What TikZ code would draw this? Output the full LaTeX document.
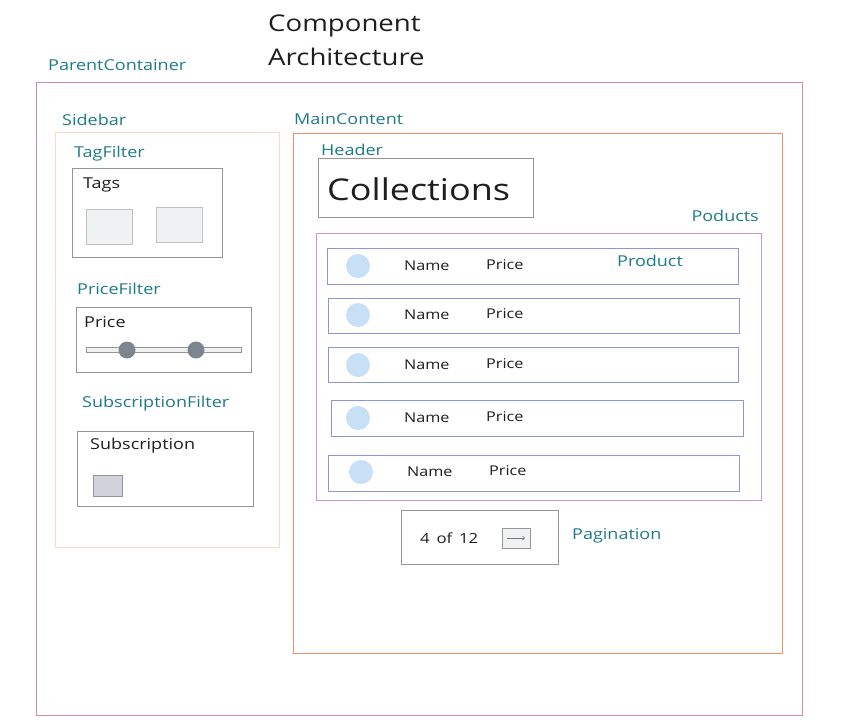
\documentclass[tikz,border=0pt]{standalone}
\usepackage{fontspec}
\usetikzlibrary{arrows.meta}
\setmainfont{Open Sans}[FakeStretch=1.2]
\begin{document}
\definecolor{labelteal}{RGB}{30,122,135}
\definecolor{ink}{RGB}{30,30,30}
\definecolor{parentline}{RGB}{214,140,165}
\definecolor{sideline}{RGB}{250,218,196}
\definecolor{mainline}{RGB}{240,145,105}
\definecolor{prodsline}{RGB}{196,150,214}
\definecolor{rowline}{RGB}{140,150,224}
\definecolor{boxline}{RGB}{150,150,150}
\definecolor{tagfill}{RGB}{240,241,243}
\definecolor{knob}{RGB}{125,133,142}
\definecolor{checkfill}{RGB}{208,212,218}
\definecolor{avatar}{RGB}{200,224,246}
\begin{tikzpicture}[x=1pt,y=-1pt,
  lbl/.style={text=labelteal,font=\fontsize{15}{17}\selectfont,anchor=west,inner sep=0},
  txt/.style={text=ink,font=\fontsize{15}{17}\selectfont,anchor=west,inner sep=0},
  small/.style={text=ink,font=\fontsize{13.5}{15}\selectfont,inner sep=0},
  gbox/.style={draw=boxline,line width=0.8pt},
  row/.style={draw=rowline,line width=1pt},
]
\useasboundingbox (0,0) rectangle (849,726);

% title
\node[text=ink,font=\fontsize{23}{34}\selectfont,align=left,anchor=north west,inner sep=0] (title) at (268,15) {Component\\Architecture};

% parent container
\node[lbl] (parentlbl) at (48,65) {ParentContainer};
\draw[draw=parentline,line width=1pt] (36,82) rectangle (802,715);

% sidebar
\node[lbl] (sidelbl) at (62,120) {Sidebar};
\draw[draw=sideline,line width=1pt] (55,132) rectangle (279,547);

% tag filter
\node[lbl] (taglbl) at (74,154) {TagFilter};
\draw[gbox] (72,168) rectangle (222,257);
\node[txt] (tags) at (83,185) {Tags};
\draw[draw=boxline!60,fill=tagfill,line width=0.6pt] (86,209) rectangle (132,244);
\draw[draw=boxline!60,fill=tagfill,line width=0.6pt] (156,207) rectangle (202,242);

% price filter
\node[lbl] (pricelbl) at (77,289) {PriceFilter};
\draw[gbox] (76,307) rectangle (251,372);
\node[txt] (price) at (84,322) {Price};
\draw[draw=boxline,fill=tagfill,line width=0.6pt] (86,347) rectangle (241,352);
\fill[knob] (127,350) circle (8.5);
\fill[knob] (196,350) circle (8.5);

% subscription filter
\node[lbl] (sublbl) at (82,404) {SubscriptionFilter};
\draw[gbox] (77,431) rectangle (253,506);
\node[txt] (sub) at (90,446) {Subscription};
\draw[draw=boxline,fill=checkfill,line width=0.8pt] (93,475) rectangle (122,496);

% main content
\node[lbl] (mainlbl) at (294,119) {MainContent};
\draw[draw=mainline,line width=1pt] (293,133) rectangle (782,653);

% header
\node[lbl] (headlbl) at (321,150) {Header};
\draw[gbox] (318,158) rectangle (533,217);
\node[text=ink,font=\fontsize{30}{34}\selectfont,anchor=west,inner sep=0] (coll) at (327,189) {Collections};

% products
\node[lbl,anchor=east] (prodslbl) at (759,216) {Poducts};
\draw[draw=prodsline,line width=1pt] (316,233) rectangle (761,500);

\foreach \i/\xa/\ya/\xb/\yb/\cx/\cy in {
  1/327/248/738/284/358/266,
  2/328/298/739/333/358/315,
  3/328/347/738/382/358/365,
  4/331/400/743/436/358/418,
  5/328/455/739/491/361/472}{
  \draw[row] (\xa,\ya) rectangle (\xb,\yb);
  \fill[avatar] (\cx,\cy) circle (12);
  \node[small,anchor=west] (name\i) at (\cx+46,\cy) {Name};
  \node[small,anchor=west] (price\i) at (\cx+128,\cy-1) {Price};
}
\node[lbl] (prodlbl) at (617,261) {Product};

% pagination
\draw[gbox] (401,510) rectangle (558,564);
\node[small,anchor=west,font=\fontsize{14}{16}\selectfont] (pages) at (420,538) {4 \,of\, 12};
\draw[draw=boxline,fill=tagfill,line width=0.8pt] (502,528) rectangle (530,548);
\draw[draw=boxline!80!black,line width=0.6pt,-{Straight Barb[length=2pt]}] (507,538) -- (525,538);
\node[lbl] (paglbl) at (572,536) {Pagination};
\end{tikzpicture}
\end{document}
